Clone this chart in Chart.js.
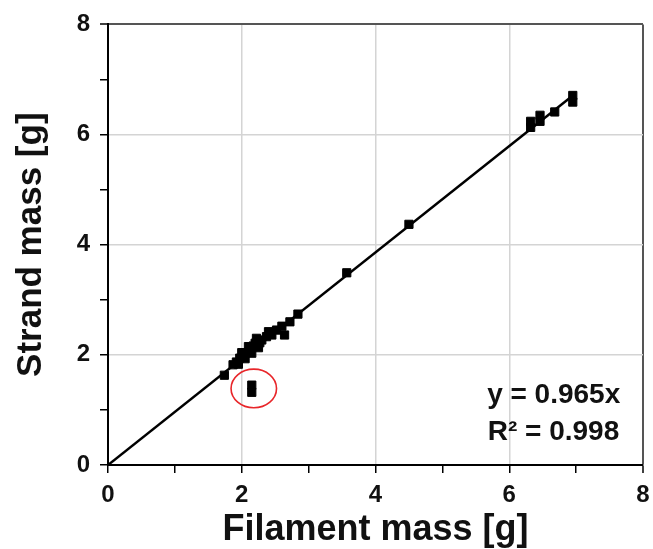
<!DOCTYPE html>
<html>
<head>
<meta charset="utf-8">
<script src="https://cdn.jsdelivr.net/npm/chart.js@4"></script>
<style>
html,body{margin:0;padding:0;background:#fff;}
#wrap{width:653px;height:549px;position:relative;}
</style>
</head>
<body>
<div id="wrap"><canvas id="c" width="653" height="549"></canvas></div>
<script>
// Measured data: filament mass (x) vs strand mass (y), grams
const filamentMass = [1.74, 1.87, 1.92, 1.95, 1.97, 2.00, 2.02, 2.05, 2.05, 2.10, 2.10, 2.12, 2.15, 2.17, 2.20, 2.22, 2.25, 2.27, 2.30, 2.37, 2.40, 2.45, 2.52, 2.60, 2.64, 2.72, 2.84,
                      2.15, 2.15,
                      3.57, 4.50,
                      6.32, 6.32, 6.46, 6.46, 6.68, 6.95, 6.95];
const strandMass   = [1.63, 1.82, 1.87, 1.83, 1.94, 2.04, 1.97, 2.03, 1.93, 2.05, 2.15, 2.12, 2.03, 2.16, 2.21, 2.30, 2.13, 2.22, 2.27, 2.33, 2.42, 2.36, 2.45, 2.52, 2.36, 2.60, 2.74,
                      1.45, 1.32,
                      3.49, 4.37,
                      6.24, 6.13, 6.35, 6.24, 6.41, 6.71, 6.59];
// Linear fit through the origin
const fitSlope = 0.965;
const fitR2 = 0.998;
const fitX = [0, 6.97];
// Highlighted outlier (circled in red)
const outlierCenter = [2.18, 1.39];
const outlierRadius = [0.34, 0.35];
const tickValues = [0, 2, 4, 6, 8];
const xTitle = 'Filament mass [g]';
const yTitle = 'Strand mass [g]';

const points = filamentMass.map((x, i) => ({x: x, y: strandMass[i]}));
const fitLine = fitX.map(x => ({x: x, y: fitSlope * x}));

const gridColor = ctx => {
  const v = ctx.tick ? ctx.tick.value : null;
  if (v === 8) return '#555555';
  if (v === 0 || v % 2 !== 0) return 'rgba(0,0,0,0)';
  return '#d4d4d4';
};
const gridWidth = ctx => (ctx.tick && ctx.tick.value === 8) ? 2 : 1.5;

const extras = {
  id: 'extras',
  afterDatasetsDraw(chart) {
    const {ctx, scales: {x, y}} = chart;
    ctx.save();
    // red ellipse around outlier
    const cx = x.getPixelForValue(outlierCenter[0]);
    const cy = y.getPixelForValue(outlierCenter[1]);
    const rx = x.getPixelForValue(outlierCenter[0] + outlierRadius[0]) - cx;
    const ry = cy - y.getPixelForValue(outlierCenter[1] + outlierRadius[1]);
    ctx.beginPath();
    ctx.ellipse(cx, cy, rx, ry, 0, 0, Math.PI * 2);
    ctx.strokeStyle = '#e8262a';
    ctx.lineWidth = 1.6;
    ctx.stroke();
    // equation text
    ctx.fillStyle = '#111';
    ctx.font = 'bold 28px "Liberation Sans", Arial, sans-serif';
    ctx.textAlign = 'right';
    ctx.textBaseline = 'middle';
    const tx = x.getPixelForValue(7.66);
    ctx.fillText('y = ' + fitSlope.toFixed(3) + 'x', tx, y.getPixelForValue(1.26));
    ctx.fillText('R\u00B2 = ' + fitR2.toFixed(3), tx - 1, y.getPixelForValue(0.60));
    ctx.restore();
  }
};

new Chart(document.getElementById('c'), {
  type: 'scatter',
  data: {
    datasets: [
      {
        type: 'line',
        data: fitLine,
        borderColor: '#000',
        borderWidth: 2.5,
        pointRadius: 0,
        fill: false,
        order: 2
      },
      {
        data: points,
        pointStyle: 'rect',
        pointRadius: 5.8,
        backgroundColor: '#000',
        borderColor: '#000',
        borderWidth: 1,
        order: 1
      }
    ]
  },
  options: {
    responsive: false,
    animation: false,
    events: [],
    layout: {padding: {top: 24, right: 10, left: 0, bottom: 0}},
    plugins: {legend: {display: false}, tooltip: {enabled: false}},
    scales: {
      x: {
        type: 'linear', min: 0, max: 8,
        afterFit: s => { s.height = 84; s.paddingRight = 0; s.paddingLeft = 0; },
        afterBuildTicks: s => { s.ticks = [0,1,2,3,4,5,6,7,8].map(v => ({value: v})); },
        border: {display: true, color: '#000', width: 2},
        grid: {color: gridColor, lineWidth: gridWidth, drawTicks: true, tickLength: 8, tickColor: '#000', tickWidth: 1.5},
        ticks: {
          autoSkip: false, maxRotation: 0, padding: 8, color: '#111',
          font: {family: '"Liberation Sans", Arial, sans-serif', size: 24, weight: 'bold'},
          callback: v => tickValues.includes(v) ? String(v) : ''
        },
        title: {display: true, text: xTitle, color: '#111', padding: {top: 0, bottom: -3},
          font: {family: '"Liberation Sans", Arial, sans-serif', size: 36, weight: 'bold'}}
      },
      y: {
        type: 'linear', min: 0, max: 8,
        afterFit: s => { s.width = 108; },
        afterBuildTicks: s => { s.ticks = [0,1,2,3,4,5,6,7,8].map(v => ({value: v})); },
        border: {display: true, color: '#000', width: 2},
        grid: {color: gridColor, lineWidth: gridWidth, drawTicks: true, tickLength: 8, tickColor: '#000', tickWidth: 1.5},
        ticks: {
          autoSkip: false, padding: 10, color: '#111',
          font: {family: '"Liberation Sans", Arial, sans-serif', size: 24, weight: 'bold'},
          callback: v => tickValues.includes(v) ? String(v) : ''
        },
        title: {display: true, text: yTitle, color: '#111', padding: {top: 10, bottom: 0},
          font: {family: '"Liberation Sans", Arial, sans-serif', size: 35, weight: 'bold'}}
      }
    }
  },
  plugins: [extras]
});
</script>
</body>
</html>
